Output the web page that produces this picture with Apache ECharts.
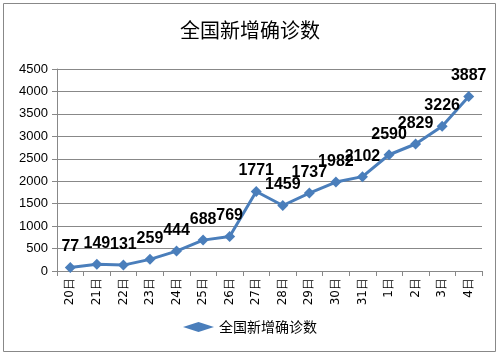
<!DOCTYPE html>
<html><head><meta charset="utf-8">
<style>html,body{margin:0;padding:0;background:#fff}#c{width:500px;height:356px}</style>
<script src="https://cdn.jsdelivr.net/npm/echarts@6/dist/echarts.min.js"></script>
</head><body><div id="c"></div>
<script>
const categories = ['20日','21日','22日','23日','24日','25日','26日','27日','28日','29日','30日','31日','1日','2日','3日','4日'];
const values = [77,149,131,259,444,688,769,1771,1459,1737,1982,2102,2590,2829,3226,3887];
const seriesName = '全国新增确诊数';
const chart = echarts.init(document.getElementById('c'));
chart.setOption({
  backgroundColor:'#fff',
  animation:false,
  title:{text:seriesName,left:'center',top:15,textStyle:{fontFamily:'Noto Sans CJK SC',fontSize:20,fontWeight:'normal',color:'#000'}},
  graphic:[{type:'rect',shape:{x:3.5,y:3.5,width:492,height:348},style:{fill:'none',stroke:'#888',lineWidth:1}}],
  legend:{bottom:17,left:'center',itemWidth:31,itemHeight:10,itemGap:4,textStyle:{fontFamily:'Noto Sans CJK SC',fontSize:14,color:'#000'},data:[{name:seriesName,icon:'diamond'}]},
  grid:{left:57,right:18,top:69,bottom:85,containLabel:false},
  xAxis:{type:'category',data:categories,boundaryGap:true,
    axisLine:{lineStyle:{color:'#888'}},axisTick:{show:true,lineStyle:{color:'#888'},length:5},
    axisLabel:{rotate:90,fontFamily:'DejaVu Sans',fontSize:12,color:'#000',margin:7,interval:0}},
  yAxis:{type:'value',min:0,max:4500,interval:500,
    axisLine:{show:true,lineStyle:{color:'#888'}},axisTick:{show:true,lineStyle:{color:'#888'},length:5},
    splitLine:{lineStyle:{color:'#888'}},
    axisLabel:{formatter:v=>String(v),fontFamily:'Liberation Sans',fontSize:13,color:'#000',margin:9}},
  series:[{name:seriesName,type:'line',data:values,symbol:'diamond',symbolSize:11,
    lineStyle:{color:'#4a7ebb',width:3},itemStyle:{color:'#4a7ebb'},
    label:{show:true,position:'top',distance:7,fontFamily:'Liberation Sans',fontWeight:'bold',fontSize:16,color:'#000'}}]
});
</script></body></html>
